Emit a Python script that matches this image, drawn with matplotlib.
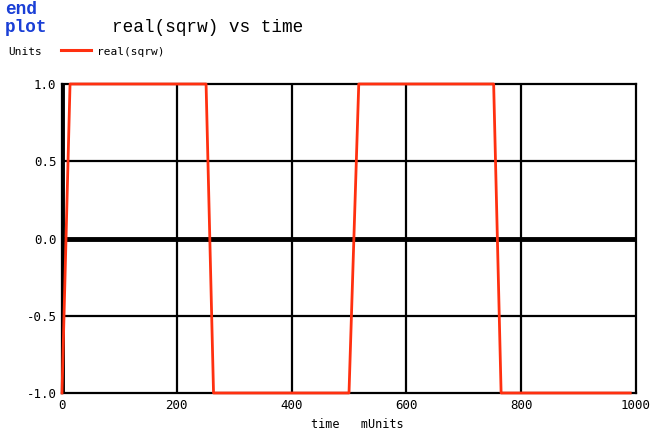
import matplotlib
matplotlib.use("Agg")
import matplotlib.pyplot as plt

# data (time in mUnits, value)
time = [0, 14, 251, 264, 500, 517, 752, 765, 990]
sqrw = [-1.0, 1.0, 1.0, -1.0, -1.0, 1.0, 1.0, -1.0, -1.0]

xticks = [0, 200, 400, 600, 800, 1000]
xtick_labels = ["0", "200", "400", "600", "800", "1000"]
yticks = [-1.0, -0.5, 0.0, 0.5, 1.0]
ytick_labels = ["-1.0", "-0.5", "0.0", "0.5", "1.0"]

W, H = 652, 432
fig = plt.figure(figsize=(W / 100, H / 100), dpi=100)
L, R, T, B = 62, 636, 84, 393
ax = fig.add_axes([L / W, 1 - B / H, (R - L) / W, (B - T) / H])

mono = "DejaVu Sans Mono"
cour = "Liberation Mono"
red = "#ff3010"

ax.set_xlim(0, 1000)
ax.set_ylim(-1.0, 1.0)
ax.set_xticks(xticks)
ax.set_yticks(yticks)
ax.set_xticklabels(xtick_labels, family=mono, fontsize=9)
ax.set_yticklabels(ytick_labels, family=mono, fontsize=9)
ax.tick_params(length=0, pad=4)

# grid
for x in xticks[1:-1]:
    ax.axvline(x, color="black", lw=1.6, zorder=1)
for y in [-0.5, 0.5]:
    ax.axhline(y, color="black", lw=1.6, zorder=1)
ax.axhline(0.0, color="black", lw=3.5, zorder=1)
ax.axvline(0.0, color="black", lw=3.5, zorder=1)

for s in ax.spines.values():
    s.set_linewidth(1.6)
    s.set_color("black")

ax.plot(time, sqrw, color=red, lw=2.0, zorder=3, clip_on=False)

# header texts
fig.text(5 / W, 1 - 10 / H, "end", family=cour, fontsize=12.8, weight="bold",
         color="#1a3fd6", va="center", ha="left")
fig.text(5 / W, 1 - 28 / H, "plot", family=cour, fontsize=12.8, weight="bold",
         color="#1a3fd6", va="center", ha="left")
fig.text(112 / W, 1 - 28 / H, "real(sqrw) vs time", family=cour, fontsize=12.8,
         color="black", va="center", ha="left")
fig.text(8 / W, 1 - 52 / H, "Units", family=mono, fontsize=8, color="black",
         va="center", ha="left")
fig.add_artist(plt.Line2D([61 / W, 91 / W], [1 - 50 / H, 1 - 50 / H],
                          color=red, lw=2.2))
fig.text(97 / W, 1 - 52 / H, "real(sqrw)", family=mono, fontsize=8,
         color="black", va="center", ha="left")
fig.text(357 / W, 1 - 424 / H, "time   mUnits", family=mono, fontsize=8.5,
         color="black", va="center", ha="center")

fig.savefig("out.png", dpi=100)
